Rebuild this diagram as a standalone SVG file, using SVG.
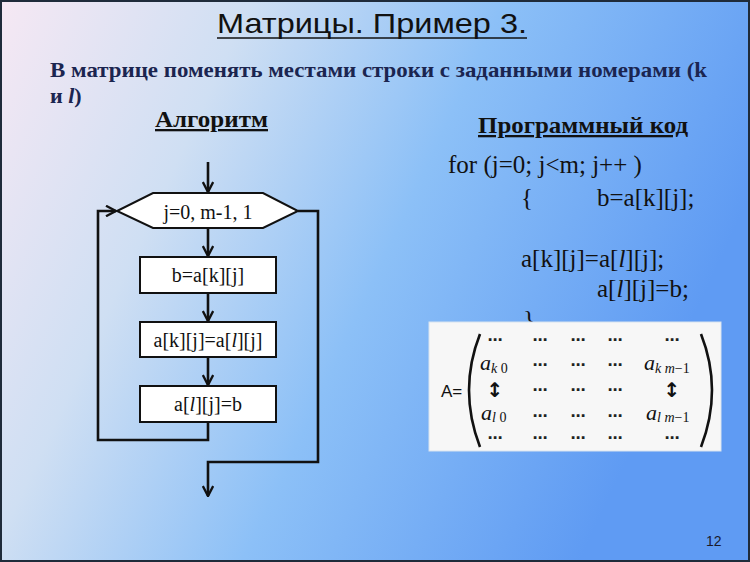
<svg xmlns="http://www.w3.org/2000/svg" width="750" height="562" viewBox="0 0 750 562">
<defs>
<linearGradient id="bg" x1="0" y1="0" x2="1" y2="0.35">
<stop offset="0" stop-color="#f6e8f3"/>
<stop offset="0.3" stop-color="#cfdff3"/>
<stop offset="0.6" stop-color="#8cc0f7"/>
<stop offset="1" stop-color="#5f9bf3"/>
</linearGradient>
<marker id="ar" viewBox="0 0 12 12" markerWidth="12" markerHeight="12" refX="11" refY="6" orient="auto" markerUnits="userSpaceOnUse">
<path d="M1,0.8 L11,6 L1,11.2" fill="none" stroke="#111" stroke-width="2.4"/>
</marker>
</defs>
<style>
.ln{fill:none;stroke:#111;stroke-width:2.6;}
.bx{fill:#fff;stroke:#111;stroke-width:2;}
.ft{font-family:"Liberation Serif",serif;font-size:20px;fill:#111;text-anchor:middle;}
.code{font-family:"Liberation Serif",serif;font-size:25px;fill:#111;}
.hd{font-family:"Liberation Serif",serif;font-size:23px;font-weight:bold;fill:#111;text-decoration:underline;}
.mx{font-family:"Liberation Serif",serif;fill:#111;}
.dots{font-family:"DejaVu Sans",sans-serif;font-size:15px;font-weight:bold;fill:#222;text-anchor:middle;}
.dbl{font-family:"DejaVu Sans",sans-serif;font-size:20px;font-weight:bold;fill:#111;text-anchor:middle;}
</style>
<rect x="0" y="0" width="750" height="562" fill="url(#bg)"/>
<rect x="1" y="1" width="748" height="560" fill="none" stroke="#1f2b3a" stroke-width="2"/>

<text x="372" y="33" font-family="Liberation Sans,sans-serif" font-size="28" fill="#111" text-anchor="middle" textLength="310" lengthAdjust="spacingAndGlyphs">Матрицы. Пример 3.</text>
<line x1="217" y1="38" x2="527" y2="38" stroke="#111" stroke-width="1.6"/>

<text x="50" y="77" font-family="Liberation Serif,serif" font-size="22" font-weight="bold" fill="#1b2550" textLength="657" lengthAdjust="spacingAndGlyphs">В матрице поменять местами строки с заданными номерами (k</text>
<text x="50" y="103" font-family="Liberation Serif,serif" font-size="22" font-weight="bold" fill="#1b2550">и <tspan font-style="italic">l</tspan>)</text>

<text x="155" y="127" class="hd" textLength="113" lengthAdjust="spacingAndGlyphs">Алгоритм</text>
<text x="478" y="133" class="hd" textLength="210" lengthAdjust="spacingAndGlyphs">Программный код</text>

<g id="connectors">
<line class="ln" x1="208" y1="162" x2="208" y2="192" marker-end="url(#ar)"/>
<line class="ln" x1="208" y1="228" x2="208" y2="256" marker-end="url(#ar)"/>
<line class="ln" x1="208" y1="293" x2="208" y2="321" marker-end="url(#ar)"/>
<line class="ln" x1="208" y1="357" x2="208" y2="385" marker-end="url(#ar)"/>
<polyline class="ln" points="208,422 208,440 98,440 98,211 116,211" marker-end="url(#ar)"/>
<polyline class="ln" points="298,211 318,211 318,462 208,462 208,496" marker-end="url(#ar)"/>
</g>

<g id="loop">
<polygon class="bx" points="153,193 263,193 298,211 263,228 153,228 117,211"/>
<text class="ft" x="208" y="219">j=0, m-1, 1</text>
</g>
<g id="step1">
<rect class="bx" x="140" y="257" width="136" height="36"/>
<text class="ft" x="208" y="282">b=a[k][j]</text>
</g>
<g id="step2">
<rect class="bx" x="140" y="322" width="136" height="35"/>
<text class="ft" x="208" y="347">a[k][j]=a[<tspan font-style="italic">l</tspan>][j]</text>
</g>
<g id="step3">
<rect class="bx" x="140" y="386" width="136" height="36"/>
<text class="ft" x="208" y="411">a[<tspan font-style="italic">l</tspan>][j]=b</text>
</g>

<g id="code">
<text class="code" x="448" y="173">for (j=0; j&lt;m; j++ )</text>
<text class="code" x="521" y="206">{</text>
<text class="code" x="597" y="206">b=a[k][j];</text>
<text class="code" x="521" y="267">a[k][j]=a[<tspan font-style="italic">l</tspan>][j];</text>
<text class="code" x="597" y="297">a[<tspan font-style="italic">l</tspan>][j]=b;</text>
<text class="code" x="523" y="328">}</text>
</g>

<g id="matrix">
<rect x="429" y="322" width="292" height="129" fill="#f7f7f7" stroke="#d8e4f0" stroke-width="1"/>
<text x="441" y="397" font-family="Liberation Sans,sans-serif" font-size="17" fill="#111">A=</text>
<path d="M480,334 Q458,390 480,447" fill="none" stroke="#111" stroke-width="2.6"/>
<path d="M701,334 Q723,390 701,447" fill="none" stroke="#111" stroke-width="2.6"/>
<text class="dots" x="495" y="345">⋯</text>
<text class="dots" x="540" y="345">⋯</text>
<text class="dots" x="578" y="345">⋯</text>
<text class="dots" x="615" y="345">⋯</text>
<text class="dots" x="672" y="345">⋯</text>
<text class="mx" x="480" y="370" font-size="22" font-style="italic">a<tspan font-size="14" dy="3">k</tspan><tspan font-size="14" font-style="normal"> 0</tspan></text>
<text class="dots" x="540" y="370">⋯</text>
<text class="dots" x="578" y="370">⋯</text>
<text class="dots" x="615" y="370">⋯</text>
<text class="mx" x="644" y="370" font-size="22" font-style="italic">a<tspan font-size="14" dy="3">k m</tspan><tspan font-size="14" font-style="normal">−1</tspan></text>
<text class="dbl" x="495" y="397">↕</text>
<text class="dots" x="540" y="395">⋯</text>
<text class="dots" x="578" y="395">⋯</text>
<text class="dots" x="615" y="395">⋯</text>
<text class="dbl" x="672" y="397">↕</text>
<text class="mx" x="481" y="420" font-size="22" font-style="italic">a<tspan font-size="14" dy="2">l</tspan><tspan font-size="14" font-style="normal"> 0</tspan></text>
<text class="dots" x="540" y="421">⋯</text>
<text class="dots" x="578" y="421">⋯</text>
<text class="dots" x="615" y="421">⋯</text>
<text class="mx" x="646" y="420" font-size="22" font-style="italic">a<tspan font-size="14" dy="2">l m</tspan><tspan font-size="14" font-style="normal">−1</tspan></text>
<text class="dots" x="495" y="443">⋯</text>
<text class="dots" x="540" y="443">⋯</text>
<text class="dots" x="578" y="443">⋯</text>
<text class="dots" x="615" y="443">⋯</text>
<text class="dots" x="672" y="443">⋯</text>
</g>

<text x="706" y="546" font-family="Liberation Sans,sans-serif" font-size="14" fill="#1a1a2a">12</text>
</svg>
